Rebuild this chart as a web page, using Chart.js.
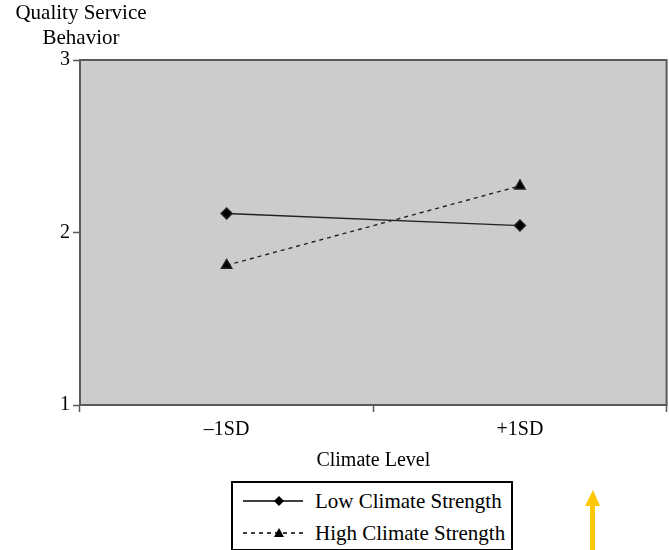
<!DOCTYPE html>
<html>
<head>
<meta charset="utf-8">
<script src="https://cdn.jsdelivr.net/npm/chart.js@4"></script>
<style>
  body { margin: 0; background: #fff; font-family: "Liberation Serif", "Times New Roman", serif; overflow: hidden; }
  #wrap { position: relative; width: 669px; height: 550px; overflow: hidden; }
  #yTitle { position: absolute; left: 0; top: 0; width: 162px; text-align: center; font-size: 21px; line-height: 25px; color: #000; }
  #legend { position: absolute; left: 231px; top: 481px; width: 282px; height: 70px; border: 2px solid #000; box-sizing: border-box; background: #fff; }
  .row { position: absolute; left: 8px; height: 30px; display: flex; align-items: center; font-size: 21px; color: #000; }
  .row svg { margin-right: 10px; }
  #arrow { position: absolute; left: 584px; top: 488px; }
</style>
</head>
<body>
<div id="wrap">
  <canvas id="chart" width="674" height="550"></canvas>
  <div id="yTitle">Quality Service<br>Behavior</div>
  <div id="legend">
    <div class="row" style="top:3px;">
      <svg width="64" height="12"><line x1="2" y1="6" x2="62" y2="6" stroke="#000" stroke-width="1.3"/><polygon points="38,1 43,6 38,11 33,6" fill="#000"/></svg>
      <span>Low Climate Strength</span>
    </div>
    <div class="row" style="top:35px;">
      <svg width="64" height="12"><line x1="2" y1="6" x2="62" y2="6" stroke="#000" stroke-width="1.3" stroke-dasharray="4,4"/><polygon points="38,1 43,10 33,10" fill="#000"/></svg>
      <span>High Climate Strength</span>
    </div>
  </div>
  <svg id="arrow" width="18" height="62"><polygon points="9,2 16,18 11,18 11,62 6,62 6,18 1,18" fill="#FFC800"/></svg>
</div>
<script>
document.addEventListener('DOMContentLoaded', () => {
    // --- Data ---
    const categories = ['\u20131SD', '+1SD'];
    const lowClimate = [2.11, 2.04];
    const highClimate = [1.81, 2.27];
    const yTicks = [1, 2, 3];

    // gray plot background + frame
    const plotFrame = {
        id: 'plotFrame',
        beforeDatasetsDraw(chart) {
            const { ctx, chartArea: a } = chart;
            ctx.save();
            ctx.fillStyle = '#cccccc';
            ctx.fillRect(a.left, a.top, a.right - a.left, a.bottom - a.top);
            ctx.strokeStyle = '#5a5a5a';
            ctx.lineWidth = 2;
            ctx.strokeRect(a.left, a.top, a.right - a.left, a.bottom - a.top);
            ctx.restore();
        }
    };

    const serif = '"Liberation Serif", "Times New Roman", serif';

    new Chart(document.getElementById('chart'), {
        type: 'line',
        data: {
            labels: categories,
            datasets: [{
                label: 'Low Climate Strength',
                data: lowClimate,
                borderColor: '#222',
                backgroundColor: '#000',
                borderWidth: 1.4,
                pointStyle: 'rectRot',
                pointRadius: 5.5,
                pointHoverRadius: 5.5
            }, {
                label: 'High Climate Strength',
                data: highClimate,
                borderColor: '#222',
                backgroundColor: '#000',
                borderWidth: 1.4,
                borderDash: [4, 4],
                pointStyle: 'triangle',
                pointRadius: 6,
                pointHoverRadius: 6
            }]
        },
        options: {
            responsive: false,
            animation: false,
            layout: { padding: { top: 60, right: 0, left: 0, bottom: 0 } },
            plugins: {
                legend: { display: false },
                tooltip: { enabled: false }
            },
            scales: {
                x: {
                    offset: true,
                    grid: {
                        offset: true,
                        drawOnChartArea: false,
                        tickLength: 7,
                        color: '#5a5a5a',
                        tickWidth: 1.5
                    },
                    border: { display: false },
                    ticks: { color: '#000', font: { family: serif, size: 20 }, padding: 6, maxRotation: 0 },
                    title: {
                        display: true,
                        text: 'Climate Level',
                        color: '#000',
                        font: { family: serif, size: 20 },
                        padding: { top: 0, bottom: 77 }
                    },
                    afterFit(scale) { scale.height = 145; }
                },
                y: {
                    min: 1,
                    max: 3,
                    afterBuildTicks(scale) { scale.ticks = yTicks.map(v => ({ value: v })); },
                    grid: {
                        drawOnChartArea: false,
                        tickLength: 7,
                        color: '#5a5a5a',
                        tickWidth: 1.5
                    },
                    border: { display: false },
                    ticks: { color: '#000', font: { family: serif, size: 20 }, padding: 3 },
                    afterFit(scale) { scale.width = 80; }
                }
            }
        },
        plugins: [plotFrame]
    });
});
</script>
</body>
</html>
